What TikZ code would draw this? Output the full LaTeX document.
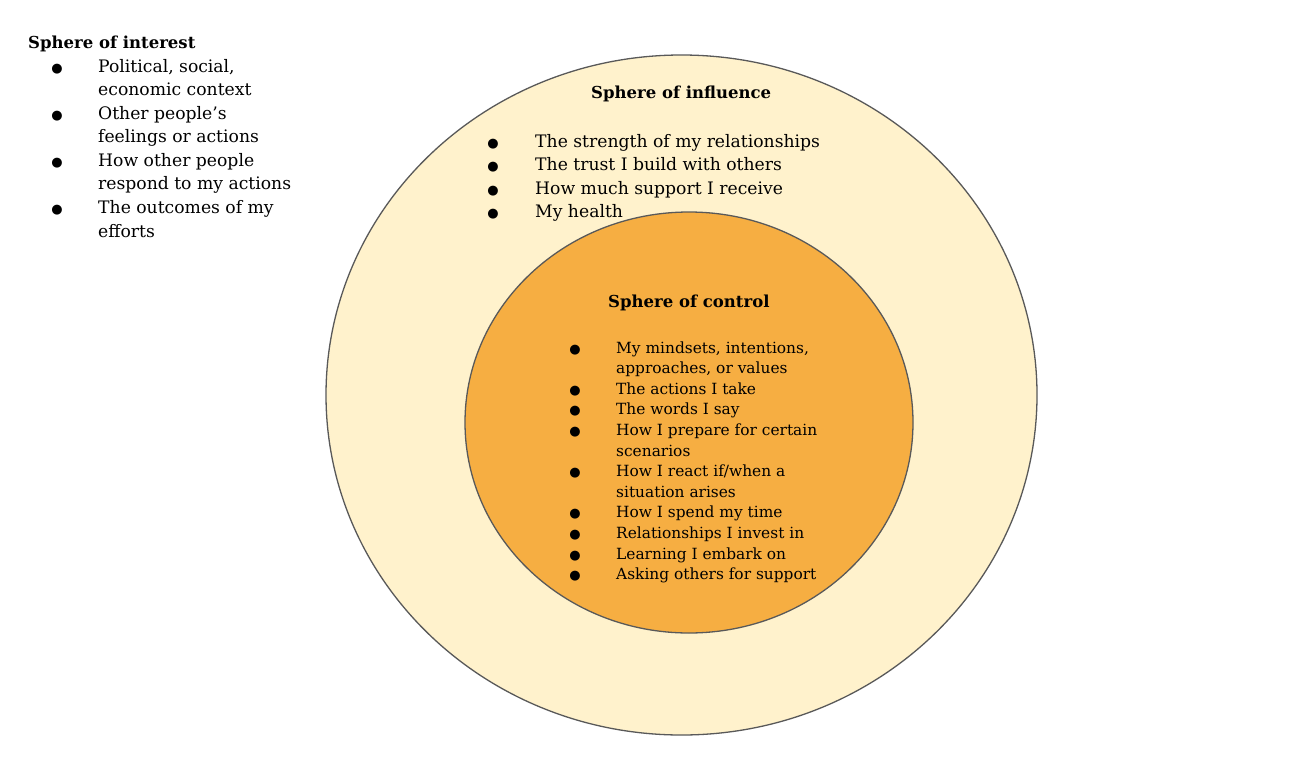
\documentclass[tikz,border=0pt]{standalone}
\usepackage{fontspec}
\setmainfont{DejaVu Serif}
\newfontfamily\bulfont{DejaVu Sans}
\usetikzlibrary{shapes.geometric}
\definecolor{outerfill}{HTML}{FFF2CC}
\definecolor{innerfill}{HTML}{F6AE42}
\definecolor{edgecol}{HTML}{595959}
\tikzset{
  sphere/.style={draw=edgecol, line width=1.3pt, ellipse, inner sep=0},
  bigtxt/.style={anchor=base west, inner sep=0, font=\fontsize{17.2}{20}\selectfont},
  smalltxt/.style={anchor=base west, inner sep=0, font=\fontsize{15.4}{18}\selectfont},
  titletxt/.style={anchor=base west, inner sep=0, font=\fontsize{16.5}{19}\selectfont\bfseries},
  bul/.style={anchor=base, inner sep=0, font=\bulfont\fontsize{13}{14}\selectfont},
}
\begin{document}
\begin{tikzpicture}[x=1pt,y=-1pt]
\useasboundingbox[fill=white] (0,0) rectangle (1313,771);
\node[sphere, fill=outerfill, minimum width=711pt, minimum height=680pt] (outer) at (681.5,395) {};
\node[sphere, fill=innerfill, minimum width=448pt, minimum height=421pt] (inner) at (689,422.5) {};

% Sphere of interest
\node[titletxt] (tint) at (28,48) {Sphere of interest};
\foreach \y/\t/\b [count=\i] in {72/{Political, social,}/1, 95.6/{economic context}/0, 119.1/{Other people’s}/1, 142.7/{feelings or actions}/0, 166.3/{How other people}/1, 189.9/{respond to my actions}/0, 213.4/{The outcomes of my}/1, 237/{efforts}/0}{
  \node[bigtxt] (int\i) at (98,\y) {\t};
  \ifnum\b=1 \node[bul] (intb\i) at (57,\y) {●}; \fi
}

% Sphere of influence
\node[titletxt] (tinf) at (591,98) {Sphere of influence};
\foreach \y/\t [count=\i] in {147/{The strength of my relationships}, 170.5/{The trust I build with others}, 194/{How much support I receive}, 217.5/{My health}}{
  \node[bigtxt] (inf\i) at (535,\y) {\t};
  \node[bul] (infb\i) at (493,\y) {●};
}

% Sphere of control
\node[titletxt] (tctl) at (608,307) {Sphere of control};
\foreach \y/\t/\b [count=\i] in {353/{My mindsets, intentions,}/1, 373.6/{approaches, or values}/0, 394.2/{The actions I take}/1, 414.8/{The words I say}/1, 435.4/{How I prepare for certain}/1, 456/{scenarios}/0, 476.6/{How I react if/when a}/1, 497.2/{situation arises}/0, 517.8/{How I spend my time}/1, 538.4/{Relationships I invest in}/1, 559/{Learning I embark on}/1, 579.6/{Asking others for support}/1}{
  \node[smalltxt] (ctl\i) at (616,\y) {\t};
  \ifnum\b=1 \node[bul] (ctlb\i) at (575,\y) {●}; \fi
}
\end{tikzpicture}
\end{document}
